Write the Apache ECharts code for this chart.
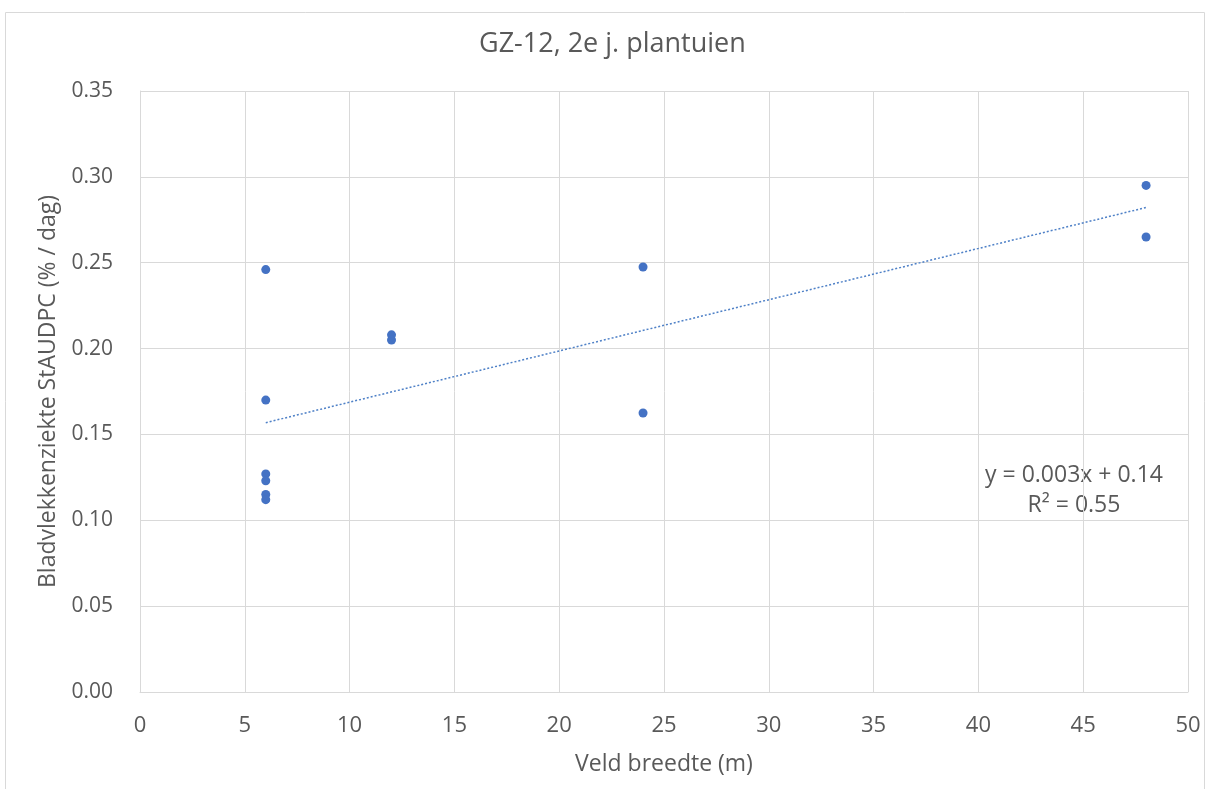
<!DOCTYPE html>
<html>
<head>
<meta charset="utf-8">
<script src="https://cdn.jsdelivr.net/npm/echarts@6/dist/echarts.min.js"></script>
<style>
  html, body { margin: 0; padding: 0; background: #fff; }
  #chart { width: 1206px; height: 789px; }
</style>
</head>
<body>
<div id="chart"></div>
<script>
// veld breedte (m) per meting
const widths = [6, 6, 6, 6, 6, 6, 12, 12, 24, 24, 48, 48];
// StAUDPC (% / dag)
const staudpc = [0.246, 0.170, 0.127, 0.123, 0.115, 0.112, 0.208, 0.205, 0.2475, 0.1625, 0.295, 0.265];
const xTicks = [0, 5, 10, 15, 20, 25, 30, 35, 40, 45, 50];
const yTicks = [0, 0.05, 0.10, 0.15, 0.20, 0.25, 0.30, 0.35];

// lineaire trendlijn (kleinste kwadraten)
const n = widths.length;
const mx = widths.reduce((a, b) => a + b, 0) / n;
const my = staudpc.reduce((a, b) => a + b, 0) / n;
let sxy = 0, sxx = 0, syy = 0;
for (let i = 0; i < n; i++) {
  sxy += (widths[i] - mx) * (staudpc[i] - my);
  sxx += (widths[i] - mx) ** 2;
  syy += (staudpc[i] - my) ** 2;
}
const slope = sxy / sxx;
const intercept = my - slope * mx;
const r2 = (sxy * sxy) / (sxx * syy);
const xMin = Math.min(...widths), xMax = Math.max(...widths);
const trend = [[xMin, intercept + slope * xMin], [xMax, intercept + slope * xMax]];

const font = '"Open Sans", sans-serif';
const grey = '#595959';

const chart = echarts.init(document.getElementById('chart'));
chart.setOption({
  animation: false,
  textStyle: { fontFamily: font },
  title: {
    text: 'GZ-12, 2e j. plantuien',
    left: 474,
    top: 26,
    textStyle: { fontFamily: font, fontSize: 27, fontWeight: 'normal', color: grey }
  },
  graphic: [{
    type: 'rect',
    shape: { x: 5.5, y: 12.5, width: 1199, height: 790 },
    style: { fill: 'none', stroke: '#d9d9d9', lineWidth: 1 },
    silent: true
  }, {
    type: 'text',
    x: 1074, y: 460,
    style: {
      text: 'y = ' + slope.toFixed(3) + 'x + ' + intercept.toFixed(2) + '\nR² = ' + r2.toFixed(2),
      fill: grey, font: '23px ' + font, align: 'center', lineHeight: 30
    }
  }],
  grid: { left: 140, right: 18, top: 91, bottom: 97 },
  xAxis: {
    type: 'value',
    min: 0, max: 50, interval: 5,
    name: 'Veld breedte (m)',
    nameLocation: 'middle',
    nameGap: 61,
    nameTextStyle: { fontFamily: font, fontSize: 23, color: grey },
    axisLine: { show: true, lineStyle: { color: '#d9d9d9' } },
    axisTick: { show: false },
    axisLabel: { fontFamily: font, fontSize: 22, color: grey, margin: 23,
      formatter: v => xTicks.includes(v) ? String(v) : '' },
    splitLine: { show: true, lineStyle: { color: '#d9d9d9' } }
  },
  yAxis: {
    type: 'value',
    min: 0, max: 0.35, interval: 0.05,
    name: 'Bladvlekkenziekte StAUDPC (% / dag)',
    nameLocation: 'middle',
    nameGap: 80,
    nameTextStyle: { fontFamily: font, fontSize: 23, color: grey },
    axisLine: { show: true, lineStyle: { color: '#d9d9d9' } },
    axisTick: { show: false },
    axisLabel: { fontFamily: font, fontSize: 21, color: grey, margin: 27,
      formatter: v => yTicks.some(t => Math.abs(t - v) < 1e-9) ? v.toFixed(2) : '' },
    splitLine: { show: true, lineStyle: { color: '#d9d9d9' } }
  },
  series: [{
    type: 'scatter',
    data: widths.map((x, i) => [x, staudpc[i]]),
    symbolSize: 9,
    itemStyle: { color: '#4472c4', opacity: 1 }
  }, {
    type: 'line',
    data: trend,
    symbol: 'none',
    lineStyle: { color: '#4f81c7', width: 1.5, type: [2, 2] },
    z: 1
  }]
});
</script>
</body>
</html>
